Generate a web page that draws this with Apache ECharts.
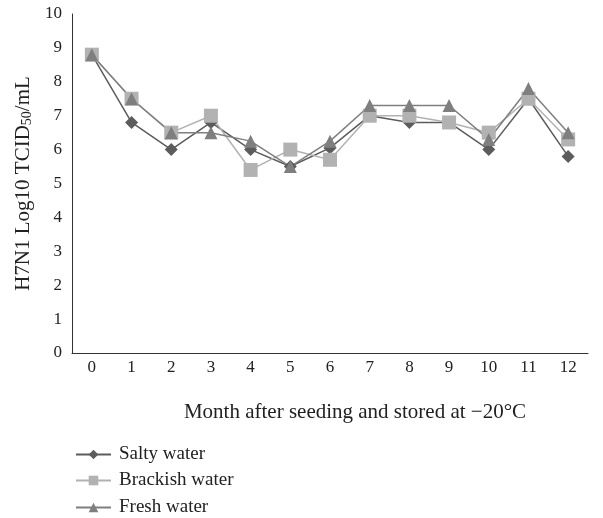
<!DOCTYPE html>
<html>
<head>
<meta charset="utf-8">
<script src="https://cdn.jsdelivr.net/npm/echarts@6/dist/echarts.min.js"></script>
<style>
  html, body { margin: 0; padding: 0; background: #fff; }
  #chart { width: 603px; height: 518px; }
</style>
</head>
<body>
<div id="chart"></div>
<script>
const months = ['0', '1', '2', '3', '4', '5', '6', '7', '8', '9', '10', '11', '12']
const seriesNames = ['Salty water', 'Brackish water', 'Fresh water']
const salty = [8.8, 6.8, 6.0, 6.8, 6.0, 5.5, 6.05, 7.0, 6.8, 6.8, 6.0, 7.5, 5.8]
const brackish = [8.8, 7.5, 6.5, 7.0, 5.4, 6.0, 5.7, 7.0, 7.0, 6.8, 6.5, 7.5, 6.3]
const fresh = [8.8, 7.5, 6.5, 6.5, 6.25, 5.5, 6.25, 7.3, 7.3, 7.3, 6.3, 7.8, 6.5]

const font = 'Liberation Serif, DejaVu Serif, serif'

const makeSeries = (name, data, symbol, size, color) => ({
  name,
  type: 'line',
  data,
  symbol,
  symbolSize: size,
  itemStyle: { color },
  lineStyle: { color, width: 1.5 },
  emphasis: { disabled: true }
})

// one legend per row so they stack like the original
const makeLegend = (name, top) => ({
  left: 70,
  top,
  itemWidth: 35,
  itemHeight: 12,
  textStyle: { fontFamily: font, fontSize: 19, color: '#222', padding: [0, 0, 0, 3] },
  data: [name]
})

const chart = echarts.init(document.getElementById('chart'))
chart.setOption({
  animation: false,
  textStyle: { fontFamily: font },
  grid: { left: 72, right: 15, top: 14, bottom: 165 },
  legend: [
    makeLegend(seriesNames[0], 440),
    makeLegend(seriesNames[1], 466),
    makeLegend(seriesNames[2], 493)
  ],
  xAxis: {
    type: 'category',
    data: months,
    boundaryGap: true,
    axisLine: { lineStyle: { color: '#333', width: 1 } },
    axisTick: { show: false },
    axisLabel: { color: '#222', fontSize: 17, fontFamily: font, margin: 6 },
    name: 'Month after seeding and stored at \u221220\u00b0C',
    nameLocation: 'middle',
    nameGap: 49,
    nameTextStyle: { color: '#222', fontSize: 21, fontFamily: font, padding: [0, 0, 0, 50] }
  },
  yAxis: {
    type: 'value',
    min: 0,
    max: 10,
    interval: 1,
    splitLine: { show: false },
    axisLine: { show: true, lineStyle: { color: '#333', width: 1 } },
    axisTick: { show: false },
    axisLabel: { color: '#222', fontSize: 17, fontFamily: font, margin: 10 },
    name: 'H7N1 Log10 TCID{sub|50}/mL',
    nameLocation: 'middle',
    nameGap: 36,
    nameTextStyle: {
      color: '#222',
      fontSize: 21,
      fontFamily: font,
      rich: {
        sub: { fontSize: 14, fontFamily: font, color: '#222', verticalAlign: 'bottom', padding: [8, 0, 0, 0] }
      }
    }
  },
  series: [
    makeSeries(seriesNames[0], salty, 'diamond', 13, '#5c5c5c'),
    makeSeries(seriesNames[1], brackish, 'rect', 14, '#b2b2b2'),
    makeSeries(seriesNames[2], fresh, 'triangle', 13, '#7f7f7f')
  ]
})
</script>
</body>
</html>
